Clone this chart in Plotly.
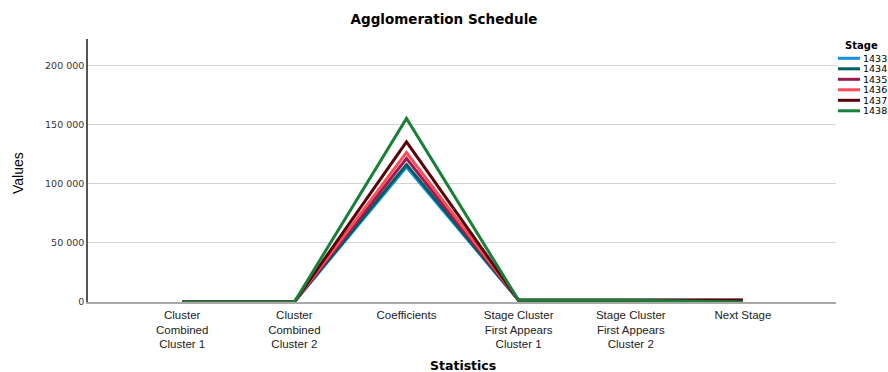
import plotly.graph_objects as go

# Agglomeration schedule, last six stages of the hierarchical clustering
statistics = [
    "Cluster<br>Combined<br>Cluster 1",
    "Cluster<br>Combined<br>Cluster 2",
    "Coefficients",
    "Stage Cluster<br>First Appears<br>Cluster 1",
    "Stage Cluster<br>First Appears<br>Cluster 2",
    "Next Stage",
]
stages = [1433, 1434, 1435, 1436, 1437, 1438]

cluster_combined_1 = [1, 2, 1, 1, 3, 1]
cluster_combined_2 = [12, 7, 4, 2, 5, 3]
coefficients = [114200, 116300, 121400, 126500, 135400, 155300]
first_appears_1 = [1428, 1430, 1431, 1435, 1432, 1436]
first_appears_2 = [1420, 1425, 1426, 1433, 1434, 1437]
next_stage = [1436, 1437, 1436, 1438, 1438, 0]

stage_colors = ["#1192E8", "#005D5D", "#9F1853", "#FA4D56", "#570408", "#198038"]

y_ticks = [0, 50000, 100000, 150000, 200000]
y_ticktext = ["0", "50 000", "100 000", "150 000", "200 000"]

W, H = 888, 372
M_L, M_R, M_T, M_B = 88, 52, 39, 70
plot_w = W - M_L - M_R
plot_h = H - M_T - M_B

fig = go.Figure()
for i, stage in enumerate(stages):
    values = [
        cluster_combined_1[i],
        cluster_combined_2[i],
        coefficients[i],
        first_appears_1[i],
        first_appears_2[i],
        next_stage[i],
    ]
    fig.add_trace(
        go.Scatter(
            x=statistics,
            y=values,
            mode="lines",
            name=str(stage),
            line=dict(color=stage_colors[i], width=3),
            showlegend=False,
        )
    )


def px_to_paper_x(px):
    return (px - M_L) / plot_w


def px_to_paper_y(py):
    return (H - M_B - py) / plot_h


annotations = [
    dict(
        text="<b>Stage</b>",
        xref="paper", yref="paper",
        x=px_to_paper_x(862), y=px_to_paper_y(45.5),
        xanchor="center", yanchor="middle",
        showarrow=False,
        font=dict(family="DejaVu Sans", size=10, color="#000000"),
    ),
    dict(
        text="<b>Statistics</b>",
        xref="paper", yref="paper",
        x=px_to_paper_x(463), y=px_to_paper_y(365.5),
        xanchor="center", yanchor="middle",
        showarrow=False,
        font=dict(family="DejaVu Sans", size=12.5, color="#000000"),
    ),
    dict(
        text="Values",
        xref="paper", yref="paper",
        x=px_to_paper_x(18), y=px_to_paper_y(173),
        xanchor="center", yanchor="middle",
        textangle=-90,
        showarrow=False,
        font=dict(family="Liberation Sans", size=14, color="#000000"),
    ),
]

# Compact legend block to the right of the plot
shapes = []
for i, stage in enumerate(stages):
    ypx = 58.3 + i * 10.5
    shapes.append(
        dict(
            type="line",
            xref="paper", yref="paper",
            x0=px_to_paper_x(838), x1=px_to_paper_x(860),
            y0=px_to_paper_y(ypx), y1=px_to_paper_y(ypx),
            line=dict(color=stage_colors[i], width=3),
        )
    )
    annotations.append(
        dict(
            text=str(stage),
            xref="paper", yref="paper",
            x=px_to_paper_x(861), y=px_to_paper_y(ypx),
            xanchor="left", yanchor="middle",
            showarrow=False,
            font=dict(family="DejaVu Sans", size=9.5, color="#000000"),
        )
    )

fig.update_layout(
    width=W,
    height=H,
    margin=dict(l=M_L, r=M_R, t=M_T, b=M_B, autoexpand=False),
    paper_bgcolor="#ffffff",
    plot_bgcolor="#ffffff",
    title=dict(
        text="<b>Agglomeration Schedule</b>",
        x=0.5, xref="container", xanchor="center",
        y=1 - 19 / H, yref="container", yanchor="middle",
        font=dict(family="DejaVu Sans", size=13.5, color="#000000"),
    ),
    xaxis=dict(
        range=[-0.84, 5.83],
        showgrid=False,
        zeroline=False,
        showline=True,
        linecolor="#a8a8a8",
        linewidth=1.5,
        ticks="",
        ticklabelstandoff=1,
        tickfont=dict(family="Liberation Sans", size=11.5, color="#222222"),
        automargin=False,
    ),
    yaxis=dict(
        range=[0, 222500],
        tickvals=y_ticks,
        ticktext=y_ticktext,
        showgrid=True,
        gridcolor="#d4d4d4",
        gridwidth=1,
        zeroline=False,
        showline=True,
        linecolor="#555555",
        linewidth=1.5,
        ticks="",
        tickfont=dict(family="DejaVu Sans", size=9.5, color="#333333"),
        automargin=False,
    ),
    annotations=annotations,
    shapes=shapes,
    showlegend=False,
)

fig.write_html("out.html")
